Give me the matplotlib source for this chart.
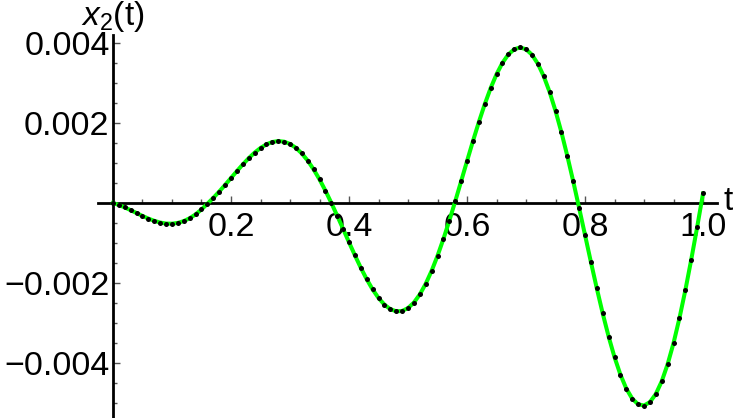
import numpy as np
import matplotlib
matplotlib.use("Agg")
import matplotlib.pyplot as plt
from matplotlib.ticker import FixedLocator

plt.rcParams['font.family'] = ['Liberation Sans', 'DejaVu Sans']
plt.rcParams['mathtext.fontset'] = 'custom'
plt.rcParams['mathtext.rm'] = 'Liberation Sans'
plt.rcParams['mathtext.it'] = 'Liberation Sans:italic'

# sample times (step 0.01) and values
t = np.linspace(0, 1, 101)
x2 = [
    0.0,
    -0.000050, -0.000111, -0.000180, -0.000252, -0.000324, -0.000390, -0.000446, -0.000489, -0.000514, -0.000517,
    -0.000498, -0.000452, -0.000381, -0.000284, -0.000162, -0.000018, 0.000128, 0.000285, 0.000452, 0.000625,
    0.000797, 0.000964, 0.001120, 0.001259, 0.001376, 0.001466, 0.001525, 0.001548, 0.001533, 0.001476,
    0.001379, 0.001239, 0.001059, 0.000841, 0.000591, 0.000309, 0.000004, -0.000318, -0.000649, -0.000982,
    -0.001308, -0.001619, -0.001906, -0.002160, -0.002374, -0.002541, -0.002654, -0.002708, -0.002700, -0.002627,
    -0.002489, -0.002286, -0.002020, -0.001697, -0.001321, -0.000900, -0.000443, 0.000041, 0.000542, 0.001046,
    0.001544, 0.002021, 0.002467, 0.002870, 0.003218, 0.003502, 0.003713, 0.003843, 0.003888, 0.003843,
    0.003708, 0.003483, 0.003170, 0.002775, 0.002303, 0.001768, 0.001176, 0.000542, -0.000122, -0.000800,
    -0.001477, -0.002136, -0.002762, -0.003339, -0.003855, -0.004291, -0.004641, -0.004891, -0.005033, -0.005063,
    -0.004978, -0.004775, -0.004458, -0.004031, -0.003503, -0.002882, -0.002183, -0.001418, -0.000606, 0.000238,
]

xticks = [0.2, 0.4, 0.6, 0.8, 1.0]
xlabels = ["0.2", "0.4", "0.6", "0.8", "1.0"]
yticks = [-0.004, -0.002, 0.002, 0.004]
ylabels = ["\u22120.004", "\u22120.002", "0.002", "0.004"]

fig = plt.figure(figsize=(7.33, 4.18), dpi=100)
ax = fig.add_axes([0, 0, 1, 1])
ax.patch.set_alpha(0)

ax.plot(t, x2, color='#00ff00', lw=2.9, zorder=3)
ax.plot(t, x2, 'o', color='black', ms=3.6, mew=0, zorder=4)

ax.set_xlim(-0.1915, 1.0508)
ax.set_ylim(-0.005375, 0.005075)

for s in ['top', 'right']:
    ax.spines[s].set_visible(False)
for s in ['left', 'bottom']:
    ax.spines[s].set_position(('data', 0))
    ax.spines[s].set_linewidth(2.0)
    ax.spines[s].set_zorder(2)
ax.spines['left'].set_bounds(-0.0054, 0.0042)
ax.spines['bottom'].set_bounds(-0.025, 1.024)

ax.set_xticks(xticks)
ax.set_xticklabels(xlabels)
ax.set_yticks(yticks)
ax.set_yticklabels(ylabels)
xminor = [m for m in np.arange(0.05, 1.0, 0.05) if min(abs(m - v) for v in xticks) > 1e-6]
yminor = [m for m in np.arange(-0.005, 0.0045, 0.0005)
          if abs(m) > 1e-9 and min(abs(m - v) for v in yticks) > 1e-9]
ax.xaxis.set_minor_locator(FixedLocator(xminor))
ax.yaxis.set_minor_locator(FixedLocator(yminor))

ax.tick_params(which='both', direction='in', color='#555555', width=1)
ax.tick_params(which='major', length=5, labelsize=24.5)
ax.tick_params(which='minor', length=3)
ax.tick_params(axis='x', pad=6.5)
ax.tick_params(axis='y', pad=2.5)

fig.text(112.5 / 733, 1 - 25 / 418, r'$x_2$(t)', ha='center', va='baseline', fontsize=24)
fig.text(724 / 733, 1 - 210 / 418, 't', ha='left', va='baseline', fontsize=24)

fig.savefig("out.png", dpi=100)
